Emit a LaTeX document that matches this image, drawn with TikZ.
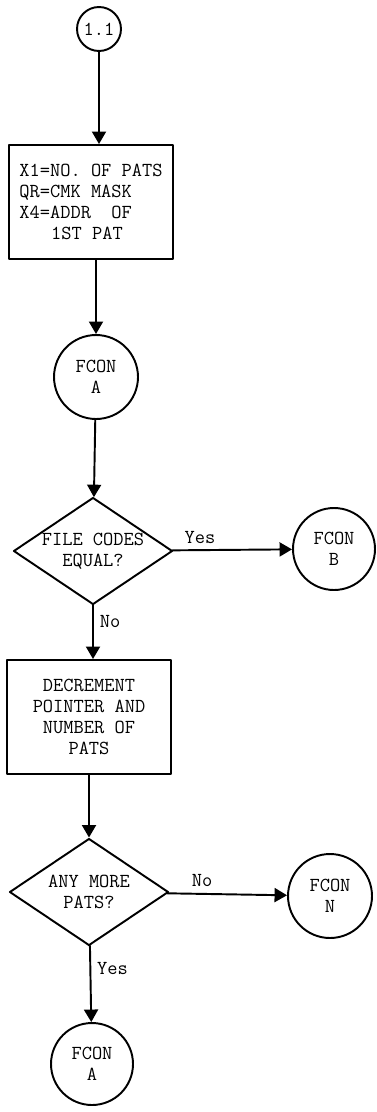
\documentclass[tikz,border=0pt]{standalone}
\usetikzlibrary{shapes.geometric,arrows.meta}

\begin{document}
\begin{tikzpicture}[x=0.02cm, y=-0.02cm, >={Triangle[width=0.28cm,length=0.25cm]}, font=\ttfamily\fontsize{11.3}{12}\selectfont, line join=round, line cap=round, line width=1.1pt,
	conn/.style={draw, circle, inner sep=0pt, minimum size=1.68cm, align=center},
	procbox/.style={draw, rectangle, inner sep=0pt, minimum width=3.27cm, minimum height=2.28cm},
	decide/.style={draw, diamond, aspect=1.46, inner sep=0pt, align=center, minimum width=3.18cm, minimum height=2.14cm}]
	\useasboundingbox (0,0) rectangle (377,1112); % khung 377x1112
	\node[conn, minimum size=0.88cm] (start) at (99,29) {1.1};
	\node[procbox, align=left] (init) at (91,202) {X1=NO. OF PATS\\QR=CMK MASK\\X4=ADDR~~OF\\\hspace*{1.6em}1ST PAT};
	\node[conn] (fconA) at (96,377) {FCON\\A};
	\node[decide] (equal) at (93,551) {FILE CODES\\EQUAL?};
	\node[conn, minimum size=1.64cm] (fconB) at (334,549) {FCON\\B};
	\node[procbox, align=center] (decr) at (89,717) {DECREMENT\\POINTER AND\\NUMBER OF\\PATS};
	\node[decide] (more) at (89,892) {ANY MORE\\PATS?};
	\node[conn] (fconN) at (330,896) {FCON\\N};
	\node[conn, minimum size=1.64cm] (fconA2) at (92,1064) {FCON\\A};
	% cac mui ten
	\draw[->] (start) -- (start |- init.north);
	\draw[->] (fconA |- init.south) -- (fconA);
	\draw[->] (fconA) -- (equal);
	\draw[->] (equal) -- (fconB) node[pos=0.23, above] (yesB) {Yes};
	\draw[->] (equal.south) -- (equal.south |- decr.north) node[pos=0.3, right] (noD) {No};
	\draw[->] (decr) -- (more);
	\draw[->] (more) -- (fconN) node[pos=0.29, above] (noN) {No};
	\draw[->] (more) -- (fconA2) node[pos=0.3, right] (yesA) {Yes};
\end{tikzpicture}
\end{document}
